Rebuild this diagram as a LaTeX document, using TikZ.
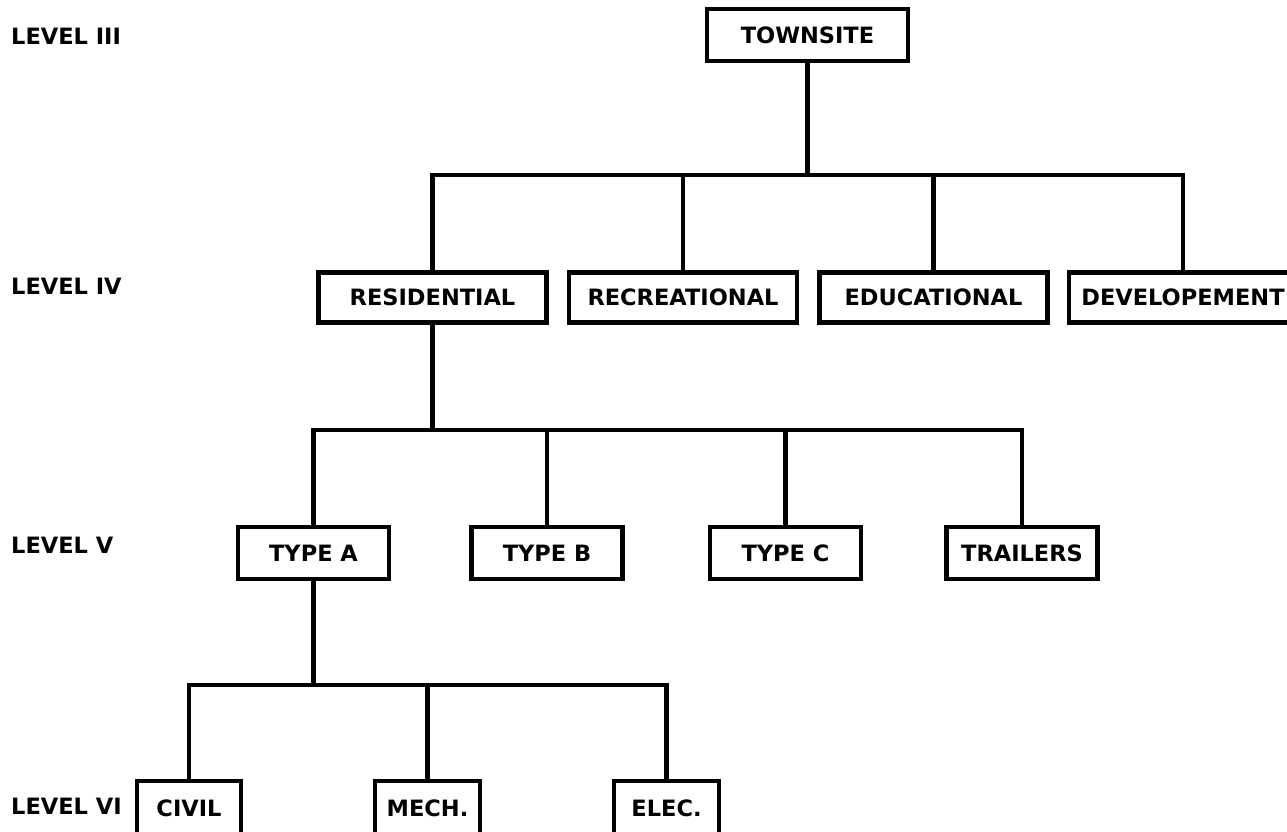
\documentclass[tikz,border=0pt]{standalone}
\usepackage{fontspec}
\setmainfont{DejaVu Sans}
\begin{document}
\begin{tikzpicture}[x=1pt,y=-1pt,
  every node/.style={font=\fontsize{22.5}{24}\selectfont\bfseries, inner sep=0pt},
  box/.style={draw, line width=4.6pt, rectangle, minimum height=#1},
  box/.default=50,
  lvl/.style={anchor=west},
  conn/.style={line width=4.6pt, line join=miter}]
\useasboundingbox (0,0) rectangle (1287,832);
\fill[white] (0,0) rectangle (1287,832);
% level labels
\node[lvl] (L3) at (11,36) {LEVEL III};
\node[lvl] (L4) at (11,286) {LEVEL IV};
\node[lvl] (L5) at (11,545) {LEVEL V};
\node[lvl] (L6) at (11,806) {LEVEL VI};
% level III
\node[box=52, minimum width=201] (T) at (807.5,35) {TOWNSITE};
% level IV
\node[box=50, minimum width=228] (RES) at (432.5,297.5) {RESIDENTIAL};
\node[box=50, minimum width=228] (REC) at (683,297.5) {RECREATIONAL};
\node[box=50, minimum width=228] (EDU) at (933.5,297.5) {EDUCATIONAL};
\node[box=50, minimum width=228] (DEV) at (1183,297.5) {DEVELOPEMENT};
% level V
\node[box=52, minimum width=151] (TA) at (313.5,553) {TYPE A};
\node[box=52, minimum width=151] (TB) at (547,553) {TYPE B};
\node[box=52, minimum width=151] (TC) at (785.5,553) {TYPE C};
\node[box=52, minimum width=151] (TR) at (1022,553) {TRAILERS};
% level VI
\node[box=54, minimum width=104] (CI) at (189,808) {CIVIL};
\node[box=54, minimum width=105] (ME) at (427.5,808) {MECH.};
\node[box=54, minimum width=105] (EL) at (666.5,808) {ELEC.};
% junctions
\coordinate (j1) at (T.south |- 0,175);
\coordinate (j2) at (RES.south |- 0,430);
\coordinate (j3) at (TA.south |- 0,685);
% connectors
\draw[conn] (T.south) -- (j1);
\draw[conn] (RES.north) |- (j1) -| (DEV.north);
\draw[conn] (j1 -| REC.north) -- (REC.north);
\draw[conn] (j1 -| EDU.north) -- (EDU.north);
\draw[conn] (RES.south) -- (j2);
\draw[conn] (TA.north) |- (j2) -| (TR.north);
\draw[conn] (j2 -| TB.north) -- (TB.north);
\draw[conn] (j2 -| TC.north) -- (TC.north);
\draw[conn] (TA.south) -- (j3);
\draw[conn] (CI.north) |- (j3) -| (EL.north);
\draw[conn] (j3 -| ME.north) -- (ME.north);
\end{tikzpicture}
\end{document}
